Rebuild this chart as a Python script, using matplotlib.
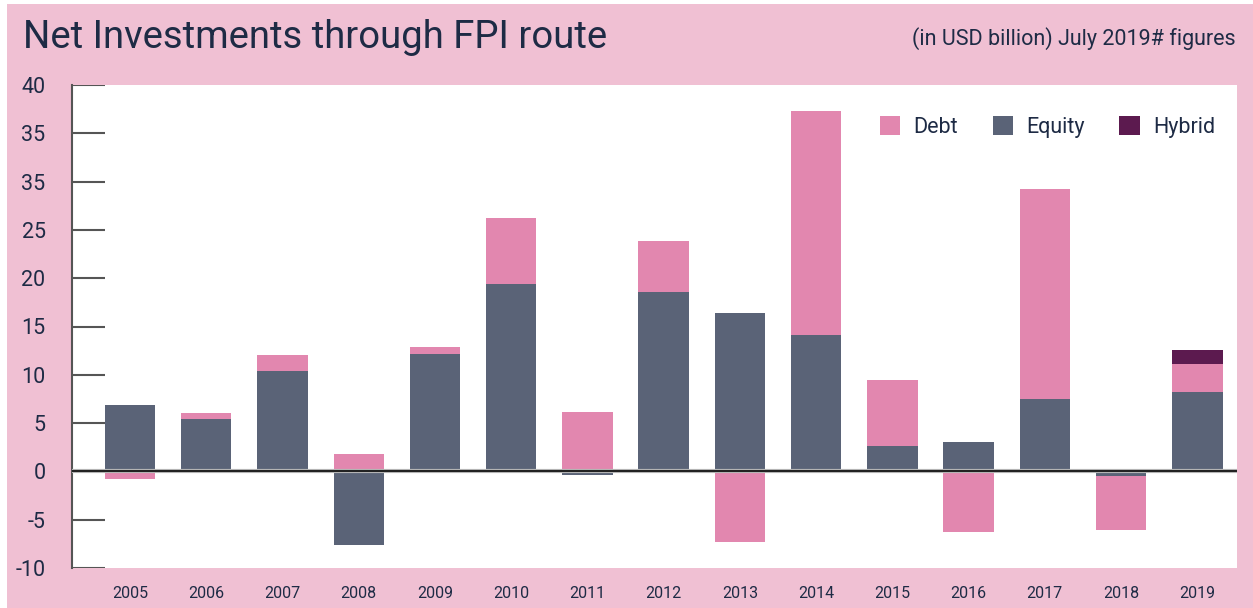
import matplotlib
matplotlib.use("Agg")
import matplotlib.pyplot as plt
import numpy as np
from matplotlib.patches import Rectangle

years = ["2005", "2006", "2007", "2008", "2009", "2010", "2011", "2012",
         "2013", "2014", "2015", "2016", "2017", "2018", "2019"]
equity = [6.9, 5.45, 10.4, -7.6, 12.2, 19.35, -0.4, 18.6,
          16.4, 14.15, 2.65, 3.05, 7.5, -0.5, 8.25]
debt = [-0.75, 0.6, 1.6, 1.8, 0.7, 6.85, 6.2, 5.2,
        -7.3, 23.15, 6.85, -6.3, 21.7, -5.6, 2.9]
hybrid = [0, 0, 0, 0, 0, 0, 0, 0, 0, 0, 0, 0, 0, 0, 1.45]
ytick_vals = [40, 35, 30, 25, 20, 15, 10, 5, 0, -5, -10]
ytick_labels = ["40", "35", "35", "25", "20", "15", "10", "5", "0", "-5", "-10"]

BG = "#F0C0D3"
DEBT = "#E287AF"
EQUITY = "#5A6377"
HYBRID = "#5C1A4F"
TEXT = "#1E2B45"
FONT = "Roboto"

W, H = 1253, 608
fig = plt.figure(figsize=(W / 100, H / 100), dpi=100)
fig.patch.set_facecolor("white")
fig.add_artist(Rectangle((7 / W, 0), 1 - 7 / W, 1 - 4 / H, transform=fig.transFigure,
                         facecolor=BG, edgecolor="none", zorder=-10))

left, right, top, bottom = 72, 1237, 85, 568
ax = fig.add_axes([left / W, 1 - bottom / H, (right - left) / W, (bottom - top) / H])
ax.set_facecolor("white")

x = np.arange(len(years))
pos = np.zeros(len(years))
neg = np.zeros(len(years))
width = 0.66
handles = {}
for vals, col, name in [(equity, EQUITY, "Equity"), (debt, DEBT, "Debt"), (hybrid, HYBRID, "Hybrid")]:
    v = np.array(vals, dtype=float)
    b = np.where(v >= 0, pos, neg)
    bars = ax.bar(x, v, width=width, bottom=b, color=col, label=name, zorder=3,
                  edgecolor="none", linewidth=0)
    pos = pos + np.where(v >= 0, v, 0)
    neg = neg + np.where(v < 0, v, 0)
    handles[name] = bars

ax.set_xlim(-0.76, 14.52)
ax.set_ylim(-10, 40)

for s in ["top", "right", "bottom"]:
    ax.spines[s].set_visible(False)
ax.spines["left"].set_color("#555555")
ax.spines["left"].set_linewidth(1.5)

for yv in ytick_vals:
    ax.plot([-0.76, -0.33], [yv, yv], color="#555555", lw=1.5, zorder=2, solid_capstyle="butt")
ax.axhline(0, color="#bbbbbb", lw=3.0, zorder=3.5)
ax.axhline(0, color="#222222", lw=1.5, zorder=4)

ax.set_yticks(ytick_vals)
ax.set_yticklabels(ytick_labels, fontsize=15.5, color=TEXT, fontfamily=FONT)
ax.tick_params(axis="y", length=0, pad=19)
ax.set_xticks(x)
ax.set_xticklabels(years, fontsize=11.5, color=TEXT, fontfamily=FONT)
ax.tick_params(axis="x", length=0, pad=13)

leg = ax.legend(handles=[handles["Debt"], handles["Equity"], handles["Hybrid"]],
                labels=["Debt", "Equity", "Hybrid"],
                loc="upper right", bbox_to_anchor=(0.994, 0.967), ncol=3, frameon=False,
                handlelength=0.95, handleheight=0.95, handletextpad=0.6, columnspacing=1.62,
                borderaxespad=0.3, prop={"family": FONT, "size": 15.5})
for t in leg.get_texts():
    t.set_color(TEXT)

fig.text(23 / W, 1 - 37 / H, "Net Investments through FPI route", fontsize=27.5,
         color=TEXT, fontfamily=FONT, va="center", ha="left")
fig.text(1236 / W, 1 - 39 / H, "(in USD billion) July 2019# figures", fontsize=15.5,
         color=TEXT, fontfamily=FONT, va="center", ha="right")

fig.savefig("out.png", dpi=100, facecolor=fig.get_facecolor())
